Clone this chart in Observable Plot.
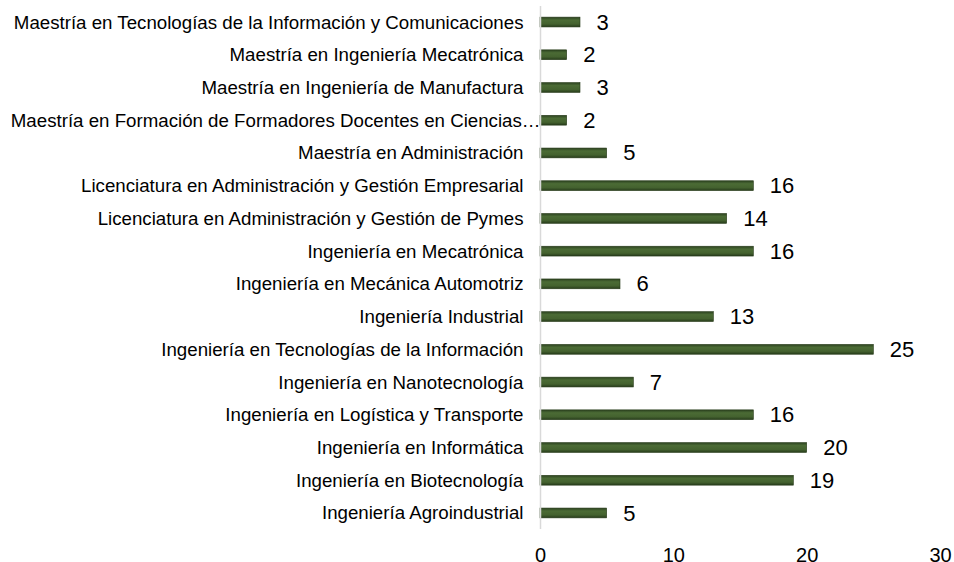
<!DOCTYPE html>
<html><head><meta charset="utf-8">
<script src="https://cdn.jsdelivr.net/npm/d3@7"></script>
<script src="https://cdn.jsdelivr.net/npm/@observablehq/plot@0.6"></script>
<style>body{margin:0;background:#fff;} svg{display:block;}</style>
</head><body><div id="chart"></div>
<script>
const categories = [
  "Maestría en Tecnologías de la Información y Comunicaciones",
  "Maestría en Ingeniería Mecatrónica",
  "Maestría en Ingeniería de Manufactura",
  "Maestría en Formación de Formadores Docentes en Ciencias…",
  "Maestría en Administración",
  "Licenciatura en Administración y Gestión Empresarial",
  "Licenciatura en Administración y Gestión de Pymes",
  "Ingeniería en Mecatrónica",
  "Ingeniería en Mecánica Automotriz",
  "Ingeniería Industrial",
  "Ingeniería en Tecnologías de la Información",
  "Ingeniería en Nanotecnología",
  "Ingeniería en Logística y Transporte",
  "Ingeniería en Informática",
  "Ingeniería en Biotecnología",
  "Ingeniería Agroindustrial"
];
const values = [3, 2, 3, 2, 5, 16, 14, 16, 6, 13, 25, 7, 16, 20, 19, 5];
const xTicks = [0, 10, 20, 30];
const longLabel = categories[3];

const data = categories.map((c, i) => ({category: c, value: values[i]}));
const font = "'Liberation Sans', Arial, Helvetica, sans-serif";

const svg = Plot.plot({
  width: 954,
  height: 562,
  marginLeft: 540,
  marginRight: 14,
  marginTop: 6,
  marginBottom: 33,
  style: {fontFamily: font, fontSize: "18px", color: "#000", background: "#fff"},
  x: {domain: [0, 30], ticks: xTicks, label: null},
  y: {domain: categories, label: null, paddingInner: 0.7, paddingOuter: 0.34, round: false},
  marks: [
    Plot.axisX({ticks: xTicks, tickSize: 0, tickPadding: 18, fontSize: 20, label: null}),
    Plot.axisY({ticks: categories.filter(c => c !== longLabel), tickSize: 0, tickPadding: 17, fontSize: 18.7, label: null}),
    Plot.axisY({ticks: [longLabel], tickSize: 0, tickPadding: 0, fontSize: 18.7, label: null}),
    Plot.barX(data, {x: "value", y: "category", fill: "url(#barGrad)", stroke: "#263a18", strokeWidth: 0.6}),
    Plot.ruleX([0], {stroke: "#d9d9d9", strokeWidth: 1.5}),
    Plot.text(data, {x: "value", y: "category", text: d => String(d.value), textAnchor: "start", dx: 16, fontSize: 22, fill: "#000"})
  ]
});

const defs = d3.select(svg).insert("defs", ":first-child");
const g = defs.append("linearGradient").attr("id", "barGrad").attr("x1", 0).attr("y1", 0).attr("x2", 0).attr("y2", 1);
g.append("stop").attr("offset", "0%").attr("stop-color", "#2c4220");
g.append("stop").attr("offset", "30%").attr("stop-color", "#4b6b35");
g.append("stop").attr("offset", "70%").attr("stop-color", "#44622f");
g.append("stop").attr("offset", "100%").attr("stop-color", "#273c1b");

document.getElementById("chart").appendChild(svg);
</script>
</body></html>
